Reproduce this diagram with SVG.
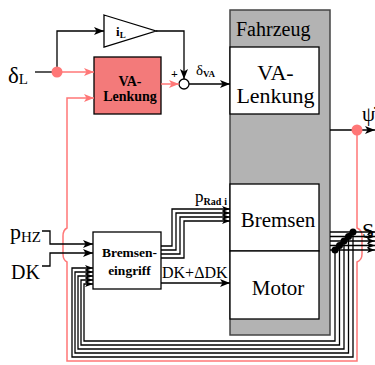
<svg xmlns="http://www.w3.org/2000/svg" width="375" height="365" viewBox="0 0 375 365">
<style>
.ln{fill:none;stroke:#000;stroke-width:1.3}
.pk{fill:none;stroke:#f77;stroke-width:1.5}
.box{fill:#fff;stroke:#000;stroke-width:1.3}
.sr{font-family:"Liberation Serif",serif;fill:#000}
.b{font-weight:bold}
</style>
<defs>
<marker id="ar" markerUnits="userSpaceOnUse" markerWidth="10" markerHeight="8" refX="10" refY="4" orient="auto"><path d="M0,0 L10,4 L0,8 L2.5,4 z" fill="#000"/></marker>
<marker id="as" markerUnits="userSpaceOnUse" markerWidth="8" markerHeight="6" refX="8" refY="3" orient="auto"><path d="M0,0 L8,3 L0,6 L2,3 z" fill="#000"/></marker>
<marker id="ap" markerUnits="userSpaceOnUse" markerWidth="10" markerHeight="8" refX="10" refY="4" orient="auto"><path d="M0,0 L10,4 L0,8 L2.5,4 z" fill="#f77"/></marker>
</defs>

<g id="fahrzeug">
<rect x="230" y="10" width="100" height="325" fill="#b3b3b3" stroke="#444" stroke-width="1.5"/>
<text class="sr" x="236" y="36" font-size="20">Fahrzeug</text>
</g>
<g id="fz-lenkung">
<rect class="box" x="230" y="47" width="89" height="67"/>
<text class="sr" x="275.5" y="80" font-size="22" text-anchor="middle">VA-</text>
<text class="sr" x="275.5" y="103" font-size="22" text-anchor="middle">Lenkung</text>
</g>
<g id="fz-bremsen">
<rect class="box" x="230" y="184" width="89" height="67"/>
<text class="sr" x="278" y="227" font-size="21" text-anchor="middle">Bremsen</text>
</g>
<g id="fz-motor">
<rect class="box" x="230" y="251" width="89" height="68"/>
<text class="sr" x="278" y="295" font-size="21" text-anchor="middle">Motor</text>
</g>

<g id="va-lenkung">
<rect x="94" y="57" width="67" height="57" fill="#f37a7a" stroke="#000" stroke-width="1.3"/>
<text class="sr b" x="130" y="86" font-size="14" text-anchor="middle">VA-</text>
<text class="sr b" x="130" y="101" font-size="14" text-anchor="middle">Lenkung</text>
</g>

<g id="gain">
<path d="M104,15 L156,31 L104,47 z" fill="#fff" stroke="#000" stroke-width="1.3"/>
<text class="sr b" x="116" y="36" font-size="13">i<tspan font-size="9" dy="2">L</tspan></text>
</g>

<g id="sum">
<circle cx="184" cy="84" r="5" fill="#fff" stroke="#000" stroke-width="1.3"/>
<text class="sr b" x="171" y="78" font-size="12">+</text>
</g>

<g id="bremseneingriff">
<rect class="box" x="93" y="232" width="68" height="57"/>
<text class="sr b" x="129.5" y="257" font-size="13.5" text-anchor="middle">Bremsen-</text>
<text class="sr b" x="129.5" y="275" font-size="13.5" text-anchor="middle">eingriff</text>
</g>

<g id="connectors">
<path class="ln" d="M35,72 H57"/>
<path class="ln" d="M57,72 V31 H104" marker-end="url(#ar)"/>
<path class="ln" d="M156,31 H184 V79" marker-end="url(#ar)"/>
<path class="pk" d="M57,72 H94" marker-end="url(#ap)"/>
<path class="pk" d="M161,84 H179" marker-end="url(#ap)"/>
<path class="ln" d="M189,84 H230" marker-end="url(#ar)"/>
<path class="ln" d="M330,130 H375" marker-end="url(#ar)"/>
<path class="pk" d="M357,130 V228 q5,2 5,8 v18 q0,6 -5,8 V361 H67 V262 q-4,-2 -4,-8 v-18 q0,-6 4,-8 V98 H94" marker-end="url(#ap)"/>
<path class="ln" d="M42,231 H50 V244 H93" marker-end="url(#ar)"/>
<path class="ln" d="M42,266 H50 V253 H93" marker-end="url(#ar)"/>
<path class="ln" d="M161,246 H172 V209 H230" marker-end="url(#as)"/>
<path class="ln" d="M161,250 H176 V213 H230" marker-end="url(#as)"/>
<path class="ln" d="M161,254 H180 V217 H230" marker-end="url(#as)"/>
<path class="ln" d="M161,258 H184 V221 H230" marker-end="url(#as)"/>
<path class="ln" d="M161,283 H230" marker-end="url(#ar)"/>
<path class="ln" d="M330,232 H375" marker-end="url(#as)"/>
<path class="ln" d="M330,236.5 H375" marker-end="url(#as)"/>
<path class="ln" d="M330,241 H375" marker-end="url(#as)"/>
<path class="ln" d="M330,245.5 H375" marker-end="url(#as)"/>
<path class="ln" d="M330,250 H375" marker-end="url(#as)"/>
<path class="ln" d="M353,232 V357 H72 V268 H93" marker-end="url(#as)"/>
<path class="ln" d="M348.5,236.5 V353 H75 V272 H93" marker-end="url(#as)"/>
<path class="ln" d="M344,241 V349 H78 V276 H93" marker-end="url(#as)"/>
<path class="ln" d="M339.5,245.5 V345 H81 V280 H93" marker-end="url(#as)"/>
<path class="ln" d="M335,250 V341 H84 V284 H93" marker-end="url(#as)"/>
<path d="M335,250 L353,232" stroke="#000" stroke-width="4"/>
<circle cx="353" cy="232" r="3.5"/>
<circle cx="348.5" cy="236.5" r="3.5"/>
<circle cx="344" cy="241" r="3.5"/>
<circle cx="339.5" cy="245.5" r="3.5"/>
<circle cx="335" cy="250" r="3.5"/>
<circle cx="57" cy="72" r="5.5" fill="#f77"/>
<circle cx="357" cy="130" r="5.5" fill="#f77"/>
</g>

<g id="labels">
<text class="sr" x="8" y="83" font-size="23">δ<tspan font-size="15" dy="1">L</tspan></text>
<text class="sr" x="196" y="75" font-size="15">δ<tspan class="b" font-size="9" dy="2">VA</tspan></text>
<text class="sr" x="10" y="239" font-size="22">p<tspan font-size="15" dy="3">HZ</tspan></text>
<text class="sr" x="11" y="279" font-size="20">DK</text>
<text class="sr" x="195" y="202" font-size="17">p<tspan class="b" font-size="10" dy="3">Rad</tspan><tspan class="b" font-size="10" dx="3">i</tspan></text>
<text class="sr" x="162" y="278" font-size="16">DK+ΔDK</text>
<text class="sr" x="362" y="121" font-size="21">ψ̇</text>
<text class="sr" x="362" y="238" font-size="22">S</text>
</g>
</svg>
